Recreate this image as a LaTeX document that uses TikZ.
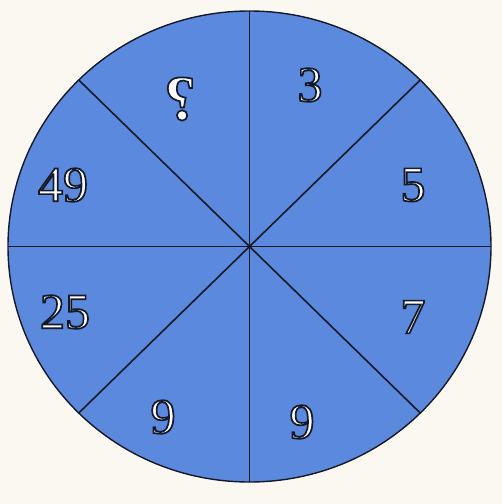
\documentclass[tikz,border=0pt]{standalone}
\usepackage{fontspec}
\setmainfont{Liberation Serif}
\definecolor{bgcream}{RGB}{251,248,242}
\definecolor{wheelblue}{RGB}{90,137,221}
\definecolor{rimline}{RGB}{22,26,40}
\tikzset{
  spoke/.style={draw=rimline, line width=1.6pt},
  rim/.style={draw=rimline, line width=1.4pt},
  num/.style={text=white, font=\fontsize{50}{50}\selectfont, inner sep=0pt},
}
\newcommand{\outl}[1]{\special{pdf:literal direct 2 Tr 1.7 w 0.086 0.102 0.157 RG}#1\special{pdf:literal direct 0 Tr 1 w}}
\begin{document}
\begin{tikzpicture}[x=1pt,y=-1pt]
\useasboundingbox (0,0) rectangle (502,504);
\fill[bgcream] (0,0) rectangle (502,504);
\coordinate (c) at (249.5,246.5);
\fill[wheelblue] (c) ellipse [x radius=241.5, y radius=235.5];
\foreach \a in {0,45,...,315} {
  \coordinate (p\a) at ({249.5+241.5*cos(\a)},{246.5-235.5*sin(\a)});
}
\foreach \a in {0,45,...,315} {
  \draw[spoke] (c) -- (p\a);
}
\draw[rim] (c) ellipse [x radius=241.5, y radius=235.5];
\fill[rimline] (c) circle (2);
% numbers
\node[num, font=\bfseries\fontsize{64}{64}\selectfont] (q) at (180,99) {\reflectbox{\outl{?}}};
\node[num] (n3) at (310,85) {\outl{3}};
\node[num] (n5) at (413,185) {\outl{5}};
\node[num] (n7) at (413,317) {\outl{7}};
\node[num] (n9r) at (302,422) {\outl{9}};
\node[num] (n9l) at (163,417) {\outl{9}};
\node[num] (n25) at (65,312) {\outl{25}};
\node[num] (n49) at (63,185) {\outl{49}};
\end{tikzpicture}
\end{document}
